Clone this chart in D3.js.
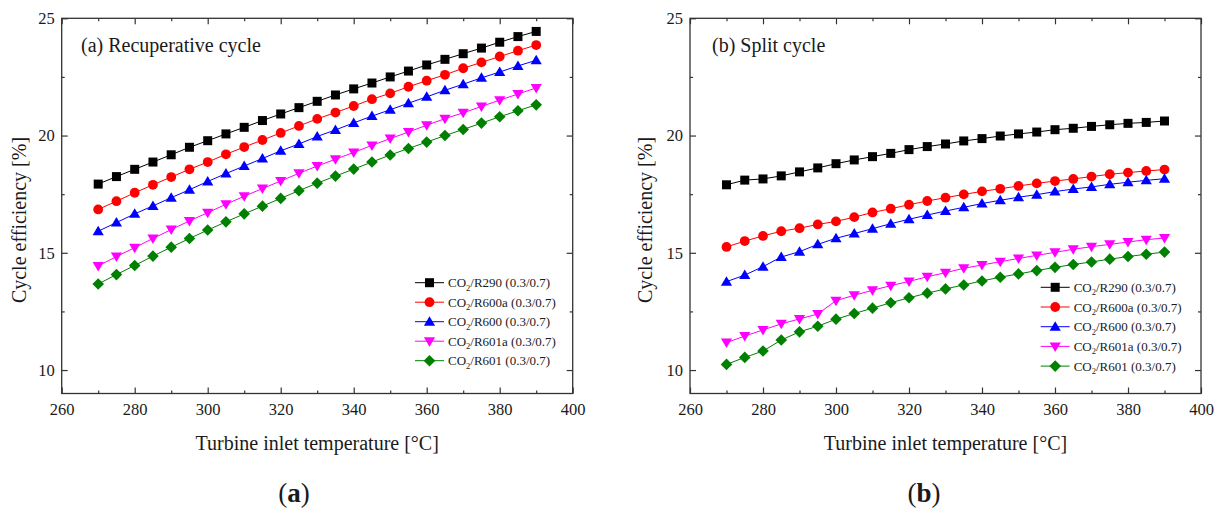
<!DOCTYPE html>
<html>
<head>
<meta charset="utf-8">
<script src="https://cdn.jsdelivr.net/npm/d3@7"></script>
<style>
  body { margin: 0; background: #fff; }
  svg text { font-family: "Liberation Serif", "Times New Roman", serif; fill: #1a1a1a; }
  .axis path { display: none; }
  .axis line { stroke: #333; stroke-width: 1.2; }
  .axis text { font-size: 16.5px; font-family: "Liberation Serif", "Times New Roman", serif; }
</style>
</head>
<body>
<svg id="chart"></svg>
<script>
// Turbine inlet temperature [°C]
const temperature = [270, 275, 280, 285, 290, 295, 300, 305, 310, 315, 320, 325, 330, 335, 340, 345, 350, 355, 360, 365, 370, 375, 380, 385, 390];

// Cycle efficiency [%], recuperative cycle
const recupR290  = [17.93, 18.25, 18.56, 18.87, 19.18, 19.50, 19.78, 20.07, 20.35, 20.64, 20.92, 21.19, 21.46, 21.73, 21.99, 22.24, 22.50, 22.75, 23.01, 23.25, 23.49, 23.73, 23.98, 24.22, 24.44];
const recupR600a = [16.85, 17.20, 17.56, 17.90, 18.23, 18.56, 18.87, 19.20, 19.51, 19.81, 20.11, 20.41, 20.71, 20.98, 21.26, 21.55, 21.80, 22.08, 22.34, 22.59, 22.87, 23.12, 23.37, 23.62, 23.86];
const recupR600  = [15.92, 16.29, 16.66, 17.00, 17.35, 17.69, 18.04, 18.38, 18.70, 19.02, 19.35, 19.64, 19.96, 20.24, 20.54, 20.83, 21.10, 21.38, 21.65, 21.93, 22.19, 22.46, 22.71, 22.97, 23.21];
const recupR601a = [14.44, 14.84, 15.22, 15.61, 15.99, 16.36, 16.71, 17.07, 17.41, 17.74, 18.06, 18.39, 18.70, 18.99, 19.28, 19.58, 19.87, 20.15, 20.44, 20.72, 20.97, 21.24, 21.51, 21.77, 22.03];
const recupR601  = [13.67, 14.07, 14.46, 14.86, 15.24, 15.61, 15.97, 16.32, 16.66, 16.99, 17.32, 17.65, 17.97, 18.27, 18.57, 18.87, 19.17, 19.45, 19.72, 20.00, 20.26, 20.53, 20.80, 21.06, 21.31];

// Cycle efficiency [%], split cycle
const splitR290  = [17.90, 18.10, 18.15, 18.28, 18.45, 18.62, 18.80, 18.96, 19.10, 19.24, 19.40, 19.53, 19.64, 19.77, 19.87, 19.98, 20.07, 20.15, 20.25, 20.31, 20.39, 20.46, 20.52, 20.56, 20.62];
const splitR600a = [15.25, 15.50, 15.72, 15.92, 16.05, 16.21, 16.34, 16.52, 16.72, 16.88, 17.05, 17.21, 17.35, 17.49, 17.62, 17.73, 17.85, 17.96, 18.06, 18.15, 18.25, 18.35, 18.42, 18.49, 18.55];
const splitR600  = [13.77, 14.05, 14.41, 14.82, 15.05, 15.36, 15.62, 15.82, 16.03, 16.24, 16.43, 16.61, 16.78, 16.94, 17.10, 17.24, 17.37, 17.48, 17.61, 17.72, 17.81, 17.92, 18.01, 18.09, 18.16];
const splitR601a = [11.17, 11.45, 11.71, 11.97, 12.18, 12.39, 12.96, 13.19, 13.40, 13.60, 13.78, 13.98, 14.15, 14.34, 14.48, 14.62, 14.76, 14.89, 15.02, 15.15, 15.26, 15.36, 15.46, 15.56, 15.63];
const splitR601  = [10.24, 10.54, 10.81, 11.28, 11.63, 11.87, 12.17, 12.41, 12.64, 12.87, 13.08, 13.28, 13.46, 13.63, 13.80, 13.96, 14.10, 14.24, 14.38, 14.50, 14.61, 14.73, 14.84, 14.94, 15.03];

// Legend / series names
const fluids = ['R290', 'R600a', 'R600', 'R601a', 'R601'];
const fraction = ' (0.3/0.7)';

// Tick values
const xMajorTicks = [260, 280, 300, 320, 340, 360, 380, 400];
const xMinorTicks = [270, 290, 310, 330, 350, 370, 390];
const yMajorTicks = [10, 15, 20, 25];
const yMinorTicks = [12.5, 17.5, 22.5];

const colors = ['#000000', '#ff0000', '#0000ff', '#ff00ff', '#008000'];
const shapes = ['square', 'circle', 'triangleUp', 'triangleDown', 'diamond'];

// marker path centred on 0,0
function markerPath(shape) {
  switch (shape) {
    case 'square': return 'M-4.5,-4.5H4.5V4.5H-4.5Z';
    case 'circle': return 'M4.9,0A4.9,4.9 0 1,1 -4.9,0A4.9,4.9 0 1,1 4.9,0Z';
    case 'triangleUp': return 'M0,-5.5L5.6,4L-5.6,4Z';
    case 'triangleDown': return 'M0,5.5L5.6,-4L-5.6,-4Z';
    case 'diamond': return 'M0,-5.8L5.8,0L0,5.8L-5.8,0Z';
  }
}

class CyclePlot {

  constructor(_config, _series) {
    this.config = {
      svg: _config.svg,
      left: _config.left,
      top: _config.top || 18.3,
      width: _config.width || 511,
      height: _config.height || 375.2,
      title: _config.title,
      titleX: _config.titleX,
      legendX: _config.legendX,
      legendY: _config.legendY,
      legendStep: _config.legendStep || 19.6,
      yTitleX: _config.yTitleX,
      panelLabel: _config.panelLabel,
      panelLabelX: _config.panelLabelX
    };
    this.series = _series;
    this.initVis();
  }

  initVis() {
    let vis = this;
    const c = vis.config;

    vis.xScale = d3.scaleLinear().domain([260, 400]).range([0, c.width]);
    vis.yScale = d3.scaleLinear().domain([9, 25]).range([c.height, 0]);

    vis.chart = c.svg.append('g')
      .attr('transform', `translate(${c.left},${c.top})`);

    // ticks on all four sides, pointing inward
    const axes = [
      [d3.axisBottom(vis.xScale).tickValues(xMajorTicks).tickSize(-6).tickPadding(10).tickFormat(d3.format('d')), `translate(0,${c.height})`],
      [d3.axisBottom(vis.xScale).tickValues(xMinorTicks).tickSize(-3).tickFormat(''), `translate(0,${c.height})`],
      [d3.axisTop(vis.xScale).tickValues(xMajorTicks).tickSize(-6).tickFormat(''), 'translate(0,0)'],
      [d3.axisTop(vis.xScale).tickValues(xMinorTicks).tickSize(-3).tickFormat(''), 'translate(0,0)'],
      [d3.axisLeft(vis.yScale).tickValues(yMajorTicks).tickSize(-6).tickPadding(7).tickFormat(d3.format('d')), 'translate(0,0)'],
      [d3.axisLeft(vis.yScale).tickValues(yMinorTicks).tickSize(-3).tickFormat(''), 'translate(0,0)'],
      [d3.axisRight(vis.yScale).tickValues(yMajorTicks).tickSize(-6).tickFormat(''), `translate(${c.width},0)`],
      [d3.axisRight(vis.yScale).tickValues(yMinorTicks).tickSize(-3).tickFormat(''), `translate(${c.width},0)`]
    ];
    axes.forEach(([axis, tr]) => {
      vis.chart.append('g').attr('class', 'axis').attr('transform', tr).call(axis)
        .attr('font-family', null).attr('font-size', null);
    });
    vis.chart.selectAll('.axis text').attr('fill', '#1a1a1a');

    vis.chart.append('rect')
      .attr('width', c.width)
      .attr('height', c.height)
      .attr('fill', 'none')
      .attr('stroke', '#333')
      .attr('stroke-width', 1.3);

    // axis titles
    c.svg.append('text')
      .attr('x', c.left + c.width / 2)
      .attr('y', 450)
      .attr('text-anchor', 'middle')
      .attr('font-size', 20)
      .text('Turbine inlet temperature [°C]');

    c.svg.append('text')
      .attr('transform', `translate(${c.yTitleX},220) rotate(-90)`)
      .attr('text-anchor', 'middle')
      .attr('dy', '0.35em')
      .attr('font-size', 20)
      .text('Cycle efficiency [%]');

    // in-plot title
    c.svg.append('text')
      .attr('x', c.titleX)
      .attr('y', 52)
      .attr('font-size', 20)
      .text(c.title);

    // panel label under the plot
    const pl = c.svg.append('text')
      .attr('x', c.panelLabelX)
      .attr('y', 502)
      .attr('text-anchor', 'middle')
      .attr('font-size', 27);
    pl.append('tspan').text('(');
    pl.append('tspan').attr('font-weight', 'bold').text(c.panelLabel);
    pl.append('tspan').text(')');

    vis.renderVis();
  }

  renderVis() {
    let vis = this;
    const c = vis.config;

    const line = d3.line()
      .x((d, i) => vis.xScale(temperature[i]))
      .y(d => vis.yScale(d));

    vis.series.forEach((values, k) => {
      const g = vis.chart.append('g').attr('class', 'series');
      g.append('path')
        .attr('d', line(values))
        .attr('fill', 'none')
        .attr('stroke', colors[k])
        .attr('stroke-width', 1);
      g.selectAll('.marker')
        .data(values)
        .join('path')
        .attr('class', 'marker')
        .attr('d', markerPath(shapes[k]))
        .attr('transform', (d, i) => `translate(${vis.xScale(temperature[i])},${vis.yScale(d)})`)
        .attr('fill', colors[k]);
    });

    // legend
    fluids.forEach((name, k) => {
      const y = c.legendY + k * c.legendStep;
      const lg = c.svg.append('g').attr('transform', `translate(${c.legendX},${y})`);
      lg.append('line')
        .attr('x1', 0).attr('x2', 29)
        .attr('stroke', colors[k]).attr('stroke-width', 1);
      lg.append('path')
        .attr('d', markerPath(shapes[k]))
        .attr('transform', 'translate(14.5,0)')
        .attr('fill', colors[k]);
      const t = lg.append('text')
        .attr('x', 33)
        .attr('y', 4.5)
        .attr('font-size', 13);
      t.append('tspan').text('CO');
      t.append('tspan').attr('font-size', 8.5).attr('dy', 3.5).text('2');
      t.append('tspan').attr('dy', -3.5).text('/' + name + fraction);
    });
  }
}

const svg = d3.select('#chart')
  .attr('width', 1223)
  .attr('height', 509);

new CyclePlot({
  svg: svg, left: 61.7, title: '(a) Recuperative cycle', titleX: 81,
  legendX: 415, legendY: 282.7, legendStep: 19.5, yTitleX: 18.5,
  panelLabel: 'a', panelLabelX: 294
}, [recupR290, recupR600a, recupR600, recupR601a, recupR601]);

new CyclePlot({
  svg: svg, left: 690, title: '(b) Split cycle', titleX: 712,
  legendX: 1040.7, legendY: 287.3, legendStep: 19.7, yTitleX: 645,
  panelLabel: 'b', panelLabelX: 924
}, [splitR290, splitR600a, splitR600, splitR601a, splitR601]);
</script>
</body>
</html>
